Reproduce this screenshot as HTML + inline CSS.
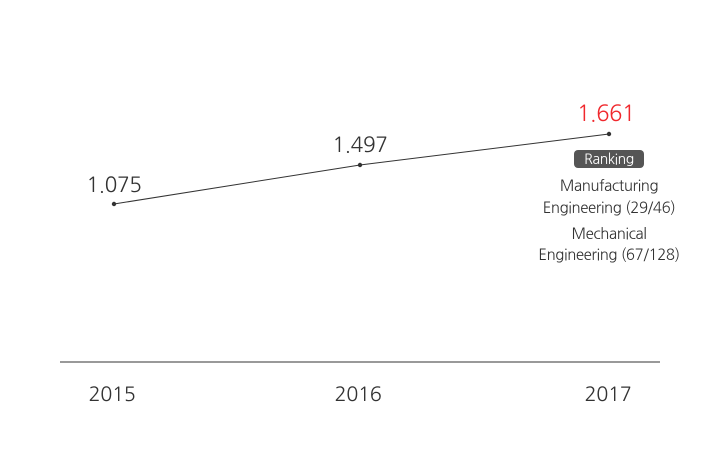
<!DOCTYPE html>
<html><head><meta charset="utf-8"><style>
html,body{margin:0;padding:0;background:#fff;}
svg{display:block;font-family:"NanumGothic","Liberation Sans",sans-serif;}
text{letter-spacing:-0.4px;}
</style></head><body>
<svg width="720" height="453" viewBox="0 0 720 453" xmlns="http://www.w3.org/2000/svg">
<rect width="720" height="453" fill="#fff"/>
<line x1="60" y1="362" x2="660" y2="362" stroke="#333" stroke-width="1"/>
<g font-size="20" fill="#333" text-anchor="middle">
<text x="112" y="401">2015</text>
<text x="358" y="401">2016</text>
<text x="608" y="401">2017</text>
</g>
<polyline points="114,204 360,165 609,134" fill="none" stroke="#333" stroke-width="1"/>
<circle cx="114" cy="204" r="2.2" fill="#333"/>
<circle cx="360" cy="165" r="2.2" fill="#333"/>
<circle cx="609" cy="134" r="2.2" fill="#333"/>
<g font-size="21" fill="#333" text-anchor="middle">
<text x="114" y="192">1.075</text>
<text x="360" y="152">1.497</text>
<text x="606" y="121" fill="#f0282d" font-size="22">1.661</text>
</g>
<rect x="574" y="150" width="70" height="18" rx="4" fill="#555"/>
<text x="609" y="164" font-size="14" fill="#fff" text-anchor="middle">Ranking</text>
<g font-size="15" fill="#333" text-anchor="middle">
<text x="609" y="191">Manufacturing</text>
<text x="609" y="213">Engineering (29/46)</text>
<text x="609" y="239">Mechanical</text>
<text x="609" y="260">Engineering (67/128)</text>
</g>
</svg>
</body></html>
